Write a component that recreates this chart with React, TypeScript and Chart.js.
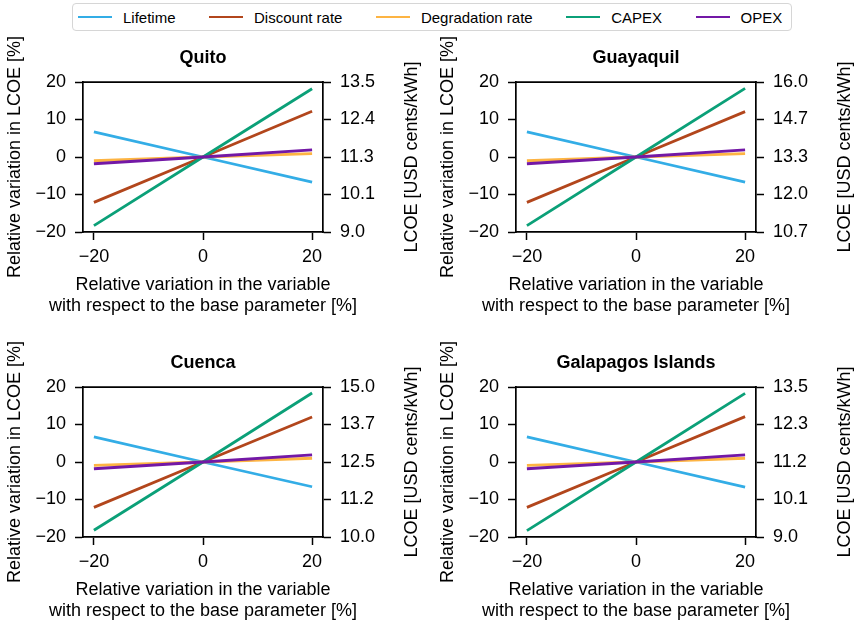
import React, { useEffect, useRef } from "react";
import { Chart, registerables } from "chart.js";

Chart.register(...registerables);

// ---------- data ----------
const cities = ["Quito", "Guayaquil", "Cuenca", "Galapagos Islands"];
const xValues = [-20, 0, 20];
const xTicks = [-20, 0, 20];
const yTicks = [-20, -10, 0, 10, 20];
const seriesNames = ["Lifetime", "Discount rate", "Degradation rate", "CAPEX", "OPEX"];
const seriesColors = ["#33ADE6", "#B2461C", "#FDB443", "#0BA078", "#7318A6"];

// relative variation in LCOE [%] at x = -20, 0, 20 for each city
const lifetime = [
  [6.7, 0, -6.7],
  [6.7, 0, -6.7],
  [6.7, 0, -6.6],
  [6.7, 0, -6.7],
];
const discountRate = [
  [-12.1, 0, 12.2],
  [-12.1, 0, 12.1],
  [-12.1, 0, 12.0],
  [-12.1, 0, 12.1],
];
const degradationRate = [
  [-1.0, 0, 0.9],
  [-1.0, 0, 0.9],
  [-0.9, 0, 1.0],
  [-0.9, 0, 1.0],
];
const capex = [
  [-18.3, 0, 18.2],
  [-18.3, 0, 18.3],
  [-18.2, 0, 18.4],
  [-18.3, 0, 18.3],
];
const opex = [
  [-1.8, 0, 1.9],
  [-1.8, 0, 1.9],
  [-1.8, 0, 1.9],
  [-1.8, 0, 1.9],
];

// right axis LCOE tick labels [USD cents/kWh]
const lcoeTicks = [
  [9.0, 10.1, 11.3, 12.4, 13.5],
  [10.7, 12.0, 13.3, 14.7, 16.0],
  [10.0, 11.2, 12.5, 13.7, 15.0],
  [9.0, 10.1, 11.2, 12.3, 13.5],
];

const xTitle = ["Relative variation in the variable", "with respect to the base parameter [%]"];
const yTitle = "Relative variation in LCOE [%]";
const y2Title = "LCOE [USD cents/kWh]";

// ---------- layout ----------
const FAMILY = "'Liberation Sans', Arial, Helvetica, sans-serif";
const CANVAS_W = 421;
const CANVAS_H = 286;
const PLOT_LEFT = 83;
const PLOT_RIGHT = 323;
const PLOT_BOTTOM = 200;
const COL_LEFT = [0, 433];
const ROW_TOP = [32, 337];

const fmt = (v: number) => (v < 0 ? "\u2212" + Math.abs(v) : String(v));

const framePlugin = {
  id: "frameAndTitles",
  afterDraw(chart: any) {
    const { ctx, chartArea } = chart;
    ctx.save();
    // top spine
    ctx.strokeStyle = "#000";
    ctx.lineWidth = 1.7;
    ctx.beginPath();
    ctx.moveTo(chartArea.left - 0.85, Math.round(chartArea.top) + 0.15);
    ctx.lineTo(chartArea.right + 0.85, Math.round(chartArea.top) + 0.15);
    ctx.stroke();
    ctx.font = `18px ${FAMILY}`;
    ctx.fillStyle = "#000";
    ctx.textAlign = "center";
    ctx.textBaseline = "middle";
    // x-axis title (two lines)
    const cx = (chartArea.left + chartArea.right) / 2;
    ctx.fillText(xTitle[0], cx, chartArea.bottom + 53.5);
    ctx.fillText(xTitle[1], cx, chartArea.bottom + 74);
    // right axis title, reading bottom-to-top
    ctx.translate(412, (chartArea.top + chartArea.bottom) / 2);
    ctx.rotate(-Math.PI / 2);
    ctx.fillText(y2Title, 0, 0);
    ctx.restore();
  },
};

function Panel({ idx }: { idx: number }) {
  const ref = useRef<HTMLCanvasElement>(null);
  useEffect(() => {
    const series = [lifetime, discountRate, degradationRate, capex, opex];
    const tickFont = { family: FAMILY, size: 18 };
    const gridOpts = {
      drawOnChartArea: false,
      drawTicks: true,
      tickLength: 8,
      tickColor: "#000",
      tickWidth: 1.5,
    };
    const borderOpts = { display: true, color: "#000", width: 1.7 };
    const chart = new Chart(ref.current as HTMLCanvasElement, {
      type: "line",
      data: {
        datasets: series.map((s, i) => ({
          label: seriesNames[i],
          data: xValues.map((x, j) => ({ x, y: s[idx][j] })),
          borderColor: seriesColors[i],
          backgroundColor: seriesColors[i],
          borderWidth: 2.8,
          pointRadius: 0,
          tension: 0,
          order: series.length - i,
          yAxisID: "y",
          xAxisID: "x",
        })),
      },
      options: {
        responsive: false,
        maintainAspectRatio: false,
        animation: false,
        layout: { padding: 0 },
        plugins: {
          legend: { display: false },
          tooltip: { enabled: false },
          title: {
            display: true,
            fullSize: false,
            text: cities[idx],
            color: "#000",
            font: { family: FAMILY, size: 18, weight: "bold", lineHeight: 1.2 },
            padding: { top: 15, bottom: 13.4 },
          },
        },
        scales: {
          x: {
            type: "linear",
            min: -22,
            max: 22,
            afterBuildTicks: (s: any) => {
              s.ticks = xTicks.map((v) => ({ value: v }));
            },
            afterFit: (s: any) => {
              s.height = CANVAS_H - PLOT_BOTTOM;
            },
            ticks: {
              font: tickFont,
              color: "#000",
              padding: 6,
              maxRotation: 0,
              autoSkip: false,
              callback: (v: any) => fmt(Number(v)),
            },
            grid: gridOpts,
            border: borderOpts,
            title: { display: false },
          },
          y: {
            type: "linear",
            position: "left",
            min: -20,
            max: 20,
            afterBuildTicks: (s: any) => {
              s.ticks = yTicks.map((v) => ({ value: v }));
            },
            afterFit: (s: any) => {
              s.width = PLOT_LEFT;
            },
            ticks: {
              font: tickFont,
              color: "#000",
              padding: 9,
              callback: (v: any) => fmt(Number(v)),
            },
            grid: gridOpts,
            border: borderOpts,
            title: {
              display: true,
              text: yTitle,
              color: "#000",
              font: { family: FAMILY, size: 18, lineHeight: 1.2 },
              padding: { top: 4, bottom: 0 },
            },
          },
          y2: {
            type: "linear",
            position: "right",
            min: -20,
            max: 20,
            afterBuildTicks: (s: any) => {
              s.ticks = yTicks.map((v) => ({ value: v }));
            },
            afterFit: (s: any) => {
              s.width = CANVAS_W - PLOT_RIGHT;
            },
            ticks: {
              font: tickFont,
              color: "#000",
              padding: 9,
              callback: (_v: any, i: number) => lcoeTicks[idx][i].toFixed(1),
            },
            grid: gridOpts,
            border: borderOpts,
          },
        },
      } as any,
      plugins: [framePlugin],
    });
    return () => chart.destroy();
  }, [idx]);

  const col = idx % 2;
  const row = Math.floor(idx / 2);
  return (
    <canvas
      ref={ref}
      width={CANVAS_W}
      height={CANVAS_H}
      style={{
        position: "absolute",
        left: COL_LEFT[col],
        top: ROW_TOP[row],
        width: CANVAS_W,
        height: CANVAS_H,
      }}
    />
  );
}

function Legend() {
  return (
    <div
      style={{
        position: "absolute",
        left: 72,
        top: 3,
        width: 720,
        height: 28,
        boxSizing: "border-box",
        border: "1px solid #d6d6d6",
        borderRadius: 4,
        display: "flex",
        alignItems: "center",
        paddingLeft: 5,
        gap: 33.5,
        font: `15px ${FAMILY}`,
        color: "#000",
        whiteSpace: "nowrap",
      }}
    >
      {seriesNames.map((n, i) => (
        <div key={n} style={{ display: "flex", alignItems: "center" }}>
          <span
            style={{
              display: "inline-block",
              width: 34,
              height: 2.5,
              background: seriesColors[i],
              marginRight: 11,
            }}
          />
          <span>{n}</span>
        </div>
      ))}
    </div>
  );
}

export default function App() {
  return (
    <div
      style={{
        position: "absolute",
        left: 0,
        top: 0,
        width: 854,
        height: 623,
        background: "#fff",
        overflow: "hidden",
      }}
    >
      <Legend />
      {cities.map((c, i) => (
        <Panel key={c} idx={i} />
      ))}
    </div>
  );
}
